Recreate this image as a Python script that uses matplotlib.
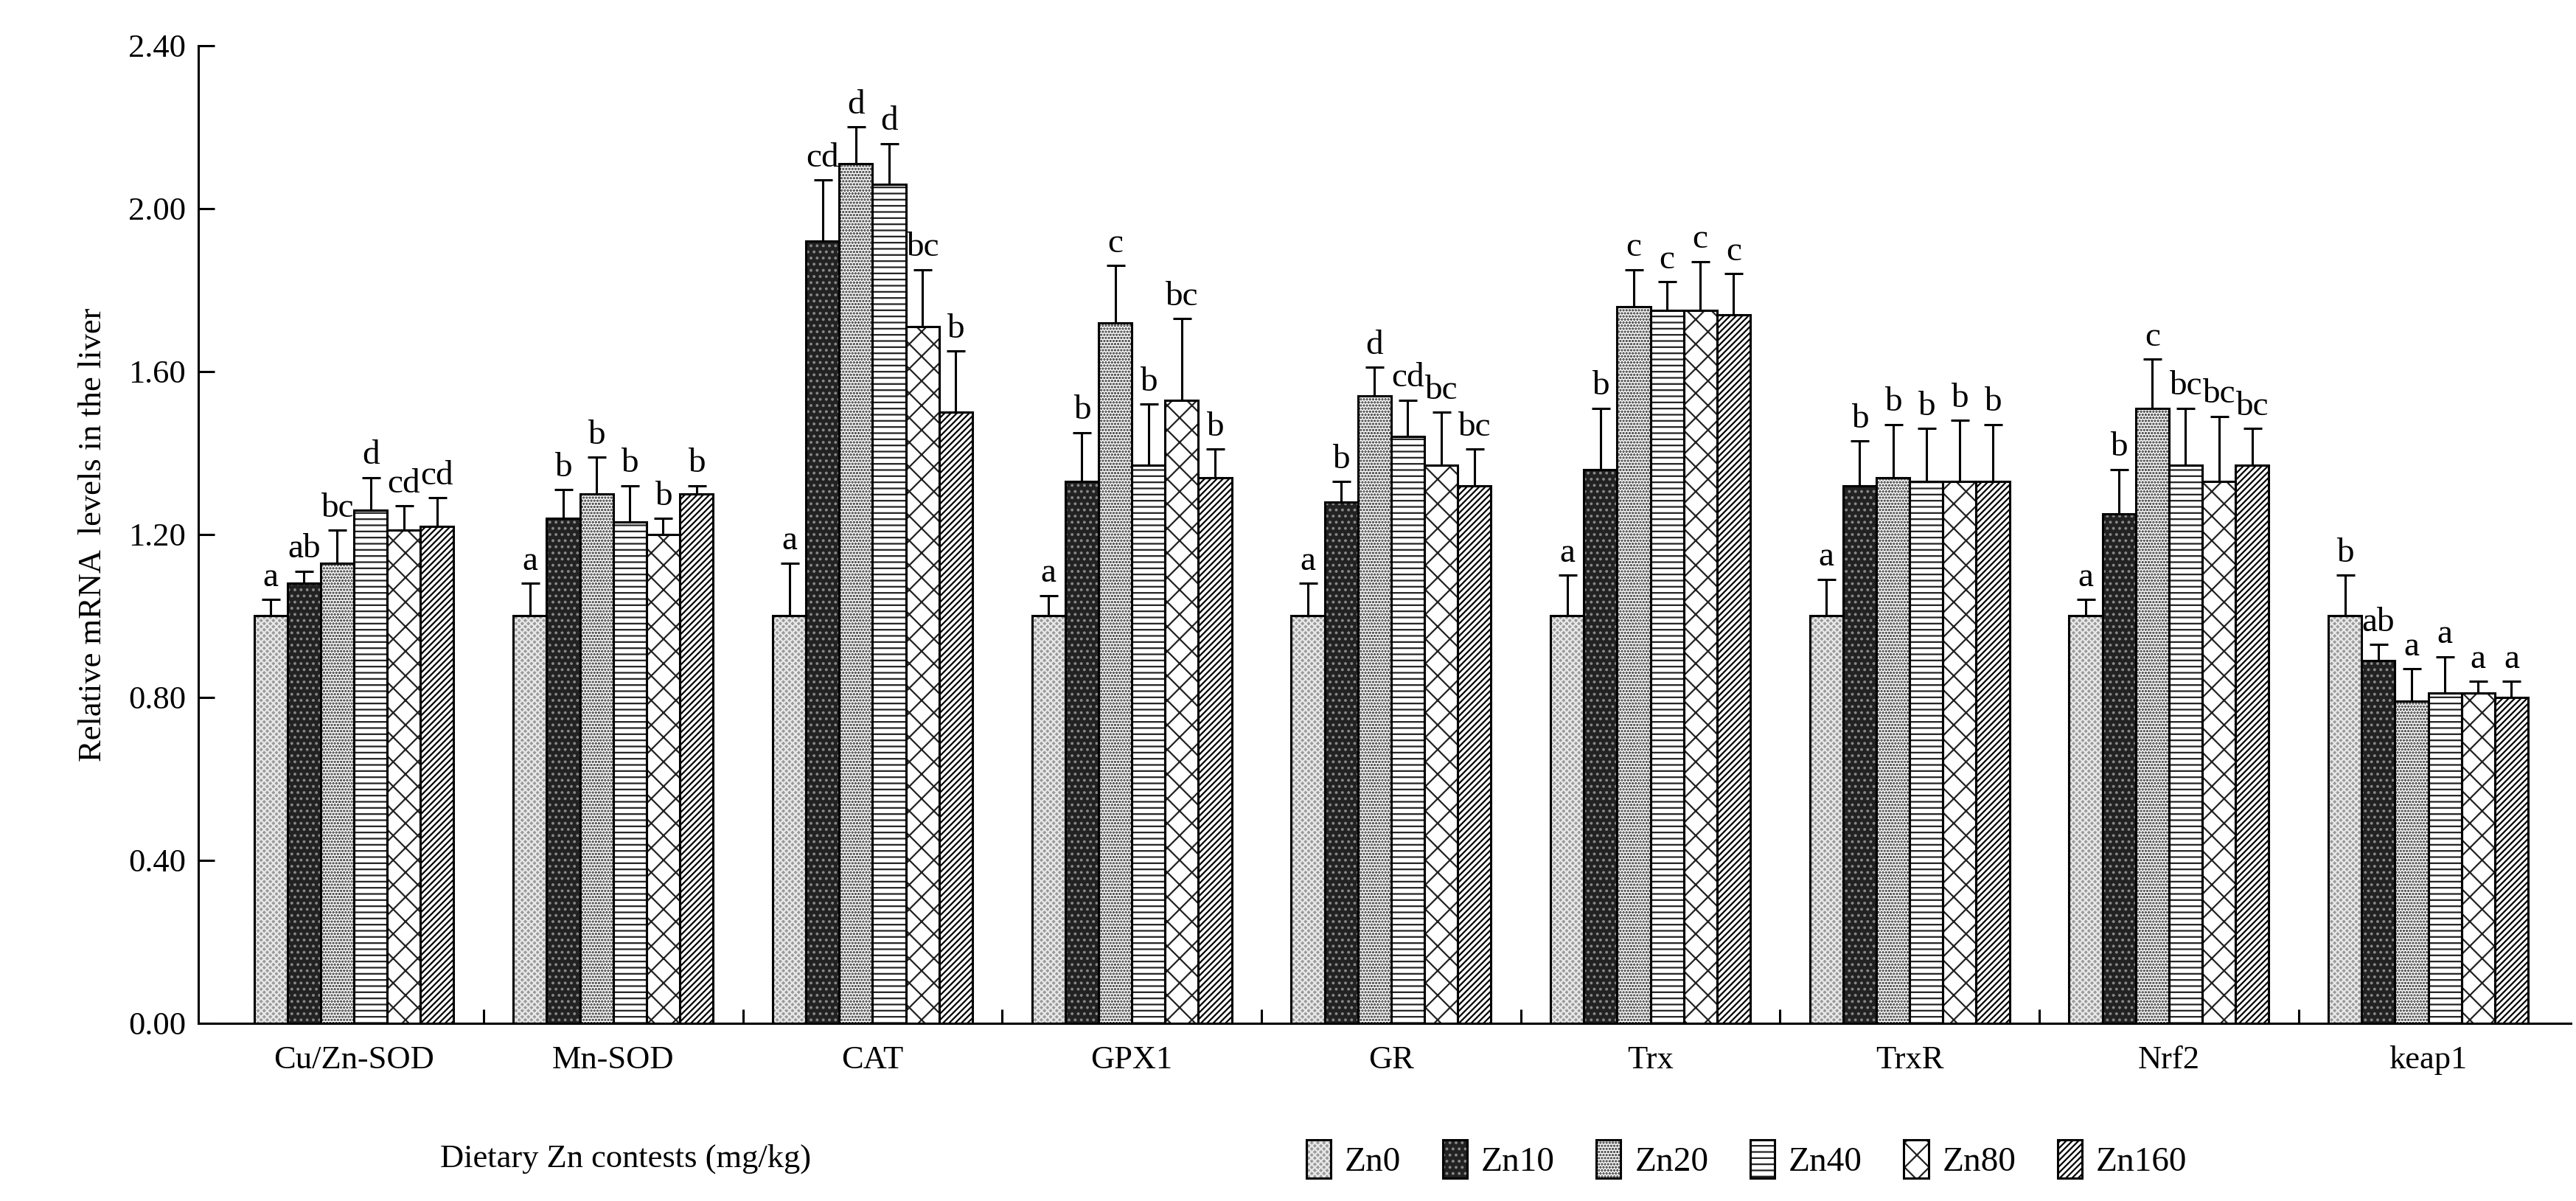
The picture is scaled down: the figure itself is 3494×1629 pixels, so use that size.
import numpy as np
import matplotlib.pyplot as plt
import matplotlib as mpl

plt.rcParams['font.family'] = ['Liberation Serif']
plt.rcParams['hatch.linewidth'] = 1.6

genes = ['Cu/Zn-SOD', 'Mn-SOD', 'CAT', 'GPX1', 'GR', 'Trx', 'TrxR', 'Nrf2', 'keap1']
groups = ['Zn0', 'Zn10', 'Zn20', 'Zn40', 'Zn80', 'Zn160']

means = [
    [1.00, 1.08, 1.13, 1.26, 1.21, 1.22],
    [1.00, 1.24, 1.30, 1.23, 1.20, 1.30],
    [1.00, 1.92, 2.11, 2.06, 1.71, 1.50],
    [1.00, 1.33, 1.72, 1.37, 1.53, 1.34],
    [1.00, 1.28, 1.54, 1.44, 1.37, 1.32],
    [1.00, 1.36, 1.76, 1.75, 1.75, 1.74],
    [1.00, 1.32, 1.34, 1.33, 1.33, 1.33],
    [1.00, 1.25, 1.51, 1.37, 1.33, 1.37],
    [1.00, 0.89, 0.79, 0.81, 0.81, 0.80],
]
errs = [
    [0.04, 0.03, 0.08, 0.08, 0.06, 0.07],
    [0.08, 0.07, 0.09, 0.09, 0.04, 0.02],
    [0.13, 0.15, 0.09, 0.10, 0.14, 0.15],
    [0.05, 0.12, 0.14, 0.15, 0.20, 0.07],
    [0.08, 0.05, 0.07, 0.09, 0.13, 0.09],
    [0.10, 0.15, 0.09, 0.07, 0.12, 0.10],
    [0.09, 0.11, 0.13, 0.13, 0.15, 0.14],
    [0.04, 0.11, 0.12, 0.14, 0.16, 0.09],
    [0.10, 0.04, 0.08, 0.09, 0.03, 0.04],
]
letters = [
    ['a', 'ab', 'bc', 'd', 'cd', 'cd'],
    ['a', 'b', 'b', 'b', 'b', 'b'],
    ['a', 'cd', 'd', 'd', 'bc', 'b'],
    ['a', 'b', 'c', 'b', 'bc', 'b'],
    ['a', 'b', 'd', 'cd', 'bc', 'bc'],
    ['a', 'b', 'c', 'c', 'c', 'c'],
    ['a', 'b', 'b', 'b', 'b', 'b'],
    ['a', 'b', 'c', 'bc', 'bc', 'bc'],
    ['b', 'ab', 'a', 'a', 'a', 'a'],
]

means = np.array(means)
errs = np.array(errs)

# (face, hatch, hatch colour)
styles = [('#9a9a9a', 'xxxx', '#e8e8e8'),
          ('#222222', '..', '#888888'),
          ('white', '....', '#222222'),
          ('white', '--', '#222222'),
          ('white', 'x', '#222222'),
          ('white', '////', 'black')]

fig, ax = plt.subplots(figsize=(34.94, 16.29), dpi=100)
fig.subplots_adjust(left=0.077, right=0.998, top=0.962, bottom=0.148)

x = np.arange(len(genes))
w = 0.77 / 6
handles = []
for j in range(6):
    pos = x + (j - 2.5) * w
    face, hatch, hc = styles[j]
    ax.bar(pos, means[:, j], w, color=face, edgecolor=hc, hatch=hatch, lw=0, zorder=2)
    ax.bar(pos, means[:, j], w, fill=False, edgecolor='black', lw=2.2, zorder=3)
    ax.errorbar(pos, means[:, j], yerr=[np.zeros(len(genes)), errs[:, j]], fmt='none',
                ecolor='black', elinewidth=2.2, capsize=9, capthick=2.2, zorder=4)
    for k in range(len(genes)):
        ax.text(pos[k], means[k, j] + errs[k, j] + 0.015, letters[k][j],
                ha='center', va='bottom', fontsize=34)
    h = mpl.patches.Patch(facecolor=face, edgecolor=hc, hatch=hatch, lw=0)
    h2 = mpl.patches.Patch(fill=False, edgecolor='black', lw=2.2)
    handles.append((h, h2))

ax.set_ylim(0, 2.4)
ax.set_xlim(-0.6, 8.55)
ax.set_yticks(np.arange(0, 2.41, 0.4))
ax.set_yticklabels(['%.2f' % v for v in np.arange(0, 2.41, 0.4)])
ax.set_xticks(x)
ax.set_xticklabels(genes)
ax.set_xticks(np.arange(0.5, 8, 1), minor=True)
ax.tick_params(axis='x', which='major', length=0, labelsize=32, pad=22)
ax.tick_params(axis='x', which='minor', direction='in', length=14, width=2.2)
ax.tick_params(axis='y', direction='in', length=16, width=2.2, labelsize=32, pad=12)
for s in ['top', 'right']:
    ax.spines[s].set_visible(False)
for s in ['left', 'bottom']:
    ax.spines[s].set_linewidth(2.2)

ax.set_ylabel('Relative mRNA  levels in the liver', fontsize=32, labelpad=20)
fig.text(0.243, 0.035, 'Dietary Zn contests (mg/kg)', fontsize=32, ha='center', va='center')
fig.legend(handles, groups, loc='center left', bbox_to_anchor=(0.495, 0.035), ncol=6,
           frameon=False, fontsize=34, handlelength=0.7, handleheight=1.3,
           columnspacing=1.2, handletextpad=0.4,
           handler_map={tuple: mpl.legend_handler.HandlerTuple(ndivide=1)})

fig.savefig('out.png', dpi=100)
